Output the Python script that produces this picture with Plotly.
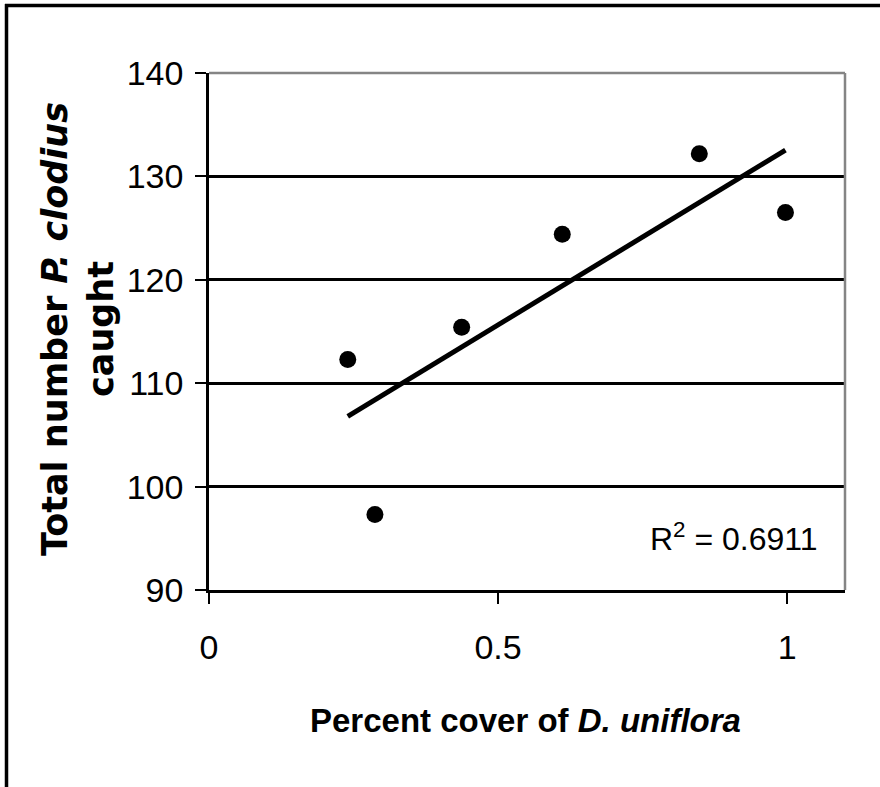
import numpy as np
import plotly.graph_objects as go

# Percent cover of D. uniflora per site and P. clodius counts
cover = [0.24, 0.287, 0.437, 0.611, 0.848, 0.997]
caught = [112.3, 97.3, 115.4, 124.4, 132.2, 126.5]

x_tickvals = [0, 0.5, 1]
x_ticktext = ["0", "0.5", "1"]
y_tickvals = [90, 100, 110, 120, 130, 140]
y_ticktext = ["90", "100", "110", "120", "130", "140"]

r2_text = "R<sup>2</sup> = 0.6911"
x_title = "<b>Percent cover of <i>D. uniflora</i></b>"
y_title = "<b>Total number <i>P. clodius</i></b><br><b>caught</b>"

# Linear trend line over the observed range
slope, intercept = np.polyfit(cover, caught, 1)
fit_x = [min(cover), max(cover)]
fit_y = [slope * v + intercept for v in fit_x]

W, H = 880, 787
ML, MR, MT, MB = 209, 35, 73, 197
PW, PH = W - ML - MR, H - MT - MB


def px_x(p):
    return (p - ML) / PW


def px_y(p):
    return (H - MB - p) / PH


sans = "Liberation Sans, Arial, sans-serif"

fig = go.Figure()
fig.add_trace(go.Scatter(
    x=fit_x, y=fit_y, mode="lines",
    line=dict(color="black", width=5),
    hoverinfo="skip", showlegend=False,
))
fig.add_trace(go.Scatter(
    x=cover, y=caught, mode="markers",
    marker=dict(color="black", size=17, symbol="circle"),
    showlegend=False,
))

fig.update_layout(
    width=W, height=H,
    margin=dict(l=ML, r=MR, t=MT, b=MB, pad=0),
    paper_bgcolor="white", plot_bgcolor="white",
    font=dict(family=sans, color="black", size=34),
    xaxis=dict(
        range=[0, 1.1], tickvals=x_tickvals, ticktext=x_ticktext,
        ticks="outside", ticklen=11, tickwidth=2, tickcolor="black",
        showline=True, linecolor="black", linewidth=2.5,
        showgrid=False, zeroline=False,
        tickfont=dict(family=sans, size=34, color="black"),
        ticklabelstandoff=14,
    ),
    yaxis=dict(
        range=[90, 140], tickvals=y_tickvals, ticktext=y_ticktext,
        ticks="outside", ticklen=11, tickwidth=2, tickcolor="black",
        showline=True, linecolor="black", linewidth=2.5,
        showgrid=True, gridcolor="black", gridwidth=2.5,
        zeroline=False,
        tickfont=dict(family=sans, size=34, color="black"),
        ticklabelstandoff=5,
    ),
    shapes=[
        # grey plot-area border on top and right
        dict(type="line", xref="paper", yref="paper", x0=0, x1=1, y0=1, y1=1,
             line=dict(color="#858585", width=2.5), layer="above"),
        dict(type="line", xref="paper", yref="paper", x0=1, x1=1, y0=0, y1=1,
             line=dict(color="#858585", width=2.5), layer="above"),
        # outer chart frame (top and left edges)
        dict(type="line", xref="paper", yref="paper",
             x0=px_x(5), x1=px_x(W + 5), y0=px_y(5.5), y1=px_y(5.5),
             line=dict(color="black", width=3.5)),
        dict(type="line", xref="paper", yref="paper",
             x0=px_x(6.5), x1=px_x(6.5), y0=px_y(4), y1=px_y(H + 5),
             line=dict(color="black", width=3.5)),
    ],
    annotations=[
        dict(text=y_title, xref="paper", yref="paper",
             x=px_x(78), y=px_y(329), xanchor="center", yanchor="middle",
             textangle=-90, showarrow=False, align="center",
             font=dict(family="DejaVu Sans, Liberation Sans, sans-serif", size=35, color="black")),
        dict(text=x_title, xref="paper", yref="paper",
             x=px_x(525), y=px_y(720), xanchor="center", yanchor="middle",
             showarrow=False,
             font=dict(family=sans, size=33, color="black")),
        dict(text=r2_text, xref="paper", yref="paper",
             x=px_x(820), y=px_y(537), xanchor="right", yanchor="middle",
             showarrow=False,
             font=dict(family=sans, size=32, color="black")),
    ],
)

fig.write_html("out.html")
